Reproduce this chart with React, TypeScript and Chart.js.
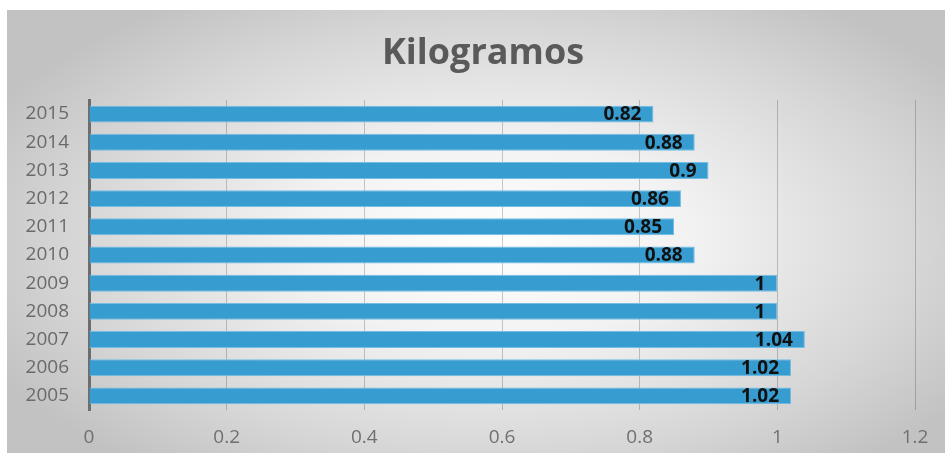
import React, { useEffect, useRef } from "react";
import { Chart, registerables } from "chart.js";

Chart.register(...registerables);

const categories = ["2015", "2014", "2013", "2012", "2011", "2010", "2009", "2008", "2007", "2006", "2005"];
const values = [0.82, 0.88, 0.9, 0.86, 0.85, 0.88, 1, 1, 1.04, 1.02, 1.02];
const xTicks = [0, 0.2, 0.4, 0.6, 0.8, 1, 1.2];
const titleText = "Kilogramos";

const FONT = "'Open Sans', sans-serif";

const valueLabels = {
  id: "valueLabels",
  afterDatasetsDraw(chart: any) {
    const ctx = chart.ctx;
    const meta = chart.getDatasetMeta(0);
    ctx.save();
    ctx.font = `bold 19px ${FONT}`;
    ctx.fillStyle = "#111111";
    ctx.textAlign = "right";
    ctx.textBaseline = "middle";
    meta.data.forEach((bar: any, i: number) => {
      ctx.fillText(String(values[i]), bar.x - 12, bar.y + 1);
    });
    ctx.restore();
  },
};

const chartTitle = {
  id: "chartTitle",
  afterDraw(chart: any) {
    const ctx = chart.ctx;
    ctx.save();
    ctx.font = `bold 36px ${FONT}`;
    ctx.fillStyle = "#5a5a5a";
    ctx.textAlign = "center";
    ctx.textBaseline = "alphabetic";
    ctx.fillText(titleText, chart.width / 2 + 7, 54);
    ctx.restore();
  },
};

export default function App() {
  const ref = useRef<HTMLCanvasElement | null>(null);

  useEffect(() => {
    if (!ref.current) return;
    const chart = new Chart(ref.current, {
      type: "bar",
      data: {
        labels: categories,
        datasets: [
          {
            data: values,
            backgroundColor: "#379dd1",
            borderColor: "#74bde3",
            borderWidth: 1,
            barPercentage: 0.6,
            categoryPercentage: 1,
          },
        ],
      },
      plugins: [valueLabels, chartTitle],
      options: {
        indexAxis: "y",
        animation: false,
        responsive: false,
        maintainAspectRatio: false,
        layout: { padding: { left: 0, right: 30, top: 90, bottom: 6 } },
        plugins: {
          legend: { display: false },
          tooltip: { enabled: false },
          title: { display: false },
        },
        scales: {
          x: {
            min: 0,
            max: 1.2,
            afterBuildTicks(axis: any) {
              axis.ticks = xTicks.map((v) => ({ value: v }));
            },
            afterFit(axis: any) {
              axis.height = 37;
            },
            ticks: {
              color: "#707070",
              font: { family: FONT, size: 19 },
              padding: 16,
              callback: (v: any) => String(Math.round(Number(v) * 10) / 10),
            },
            grid: { color: "rgba(0,0,0,0.2)", lineWidth: 1, drawTicks: false },
            border: { display: false },
          },
          y: {
            afterFit(axis: any) {
              axis.width = 82;
            },
            ticks: {
              color: "#6a6a6a",
              font: { family: FONT, size: 19 },
              padding: 20,
            },
            grid: { display: false, drawTicks: false },
            border: { display: true, color: "#6d6d6d", width: 3 },
          },
        },
      },
    });
    return () => chart.destroy();
  }, []);

  return (
    <div
      style={{
        position: "fixed",
        left: 7,
        top: 10,
        width: 938,
        height: 443,
        background:
          "radial-gradient(ellipse 60% 65% at 52% 52%, #ffffff 0%, #f2f2f2 35%, #d6d6d6 75%, #c2c2c2 100%)",
      }}
    >
      <canvas ref={ref} width={938} height={443} style={{ display: "block" }} />
    </div>
  );
}
